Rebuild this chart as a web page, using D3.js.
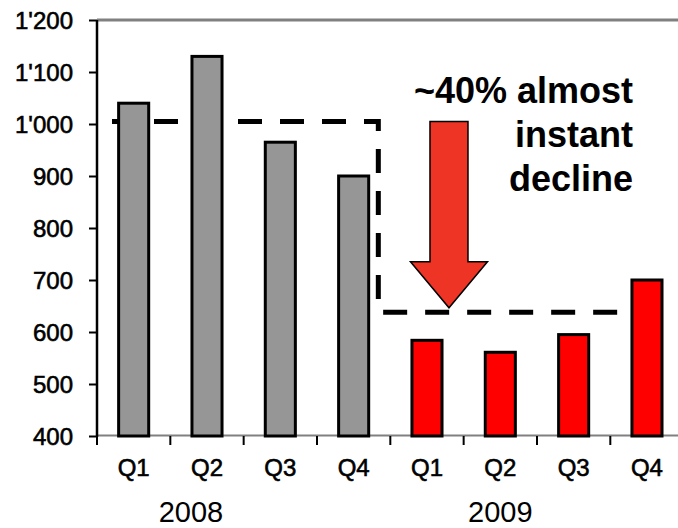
<!DOCTYPE html>
<html>
<head>
<meta charset="utf-8">
<script src="https://cdn.jsdelivr.net/npm/d3@7"></script>
<style>
  html, body { margin: 0; padding: 0; background: #fff; }
  svg { display: block; }
  text { font-family: "Liberation Sans", Arial, Helvetica, sans-serif; fill: #000; }
</style>
</head>
<body>
<svg id="chart" width="678" height="528"></svg>
<script>
// Quarterly volumes, 2008 vs 2009
const quarters = ["Q1", "Q2", "Q3", "Q4"];
const years = ["2008", "2009"];
const values2008 = [1040, 1130, 965, 900];
const values2009 = [584, 561, 595, 700];
const yTickValues = [400, 500, 600, 700, 800, 900, 1000, 1100, 1200];
// Level before and after the drop, shown as a dashed step line
const stepLevels = [1005, 638];
const calloutLines = ["~40% almost", "instant", "decline"];

const barFill = { "2008": "#969696", "2009": "#ff0000" };

const rows = years.flatMap((yr, i) =>
  quarters.map((q, j) => ({
    key: yr + "-" + q,
    year: yr,
    quarter: q,
    value: (i === 0 ? values2008 : values2009)[j]
  }))
);

const svg = d3.select("#chart");

const plotLeft = 97, plotTop = 20, plotBottom = 436;
const step = 73.33;

const x = d3.scaleBand()
  .domain(rows.map(d => d.key))
  .range([plotLeft, plotLeft + step * rows.length])
  .paddingInner(0.59)
  .paddingOuter(0.295);

const y = d3.scaleLinear().domain([400, 1200]).range([plotBottom, plotTop]);

// category boundary i (left edge of slot i)
const edge = i => x.range()[0] + i * x.step();

const fmt = d3.formatLocale({ decimal: ".", thousands: "'", grouping: [3], currency: ["", ""] }).format(",d");

// top frame line
svg.append("line")
  .attr("x1", plotLeft).attr("x2", 678)
  .attr("y1", y(1200)).attr("y2", y(1200))
  .attr("stroke", "#808080").attr("stroke-width", 3);

// x baseline
svg.append("line")
  .attr("x1", plotLeft).attr("x2", 678)
  .attr("y1", plotBottom - 0.5).attr("y2", plotBottom - 0.5)
  .attr("stroke", "#808080").attr("stroke-width", 2);

// x ticks at category boundaries
svg.append("g").selectAll("line")
  .data(d3.range(rows.length))
  .join("line")
  .attr("x1", i => edge(i)).attr("x2", i => edge(i))
  .attr("y1", plotBottom).attr("y2", plotBottom + 9)
  .attr("stroke", "#000").attr("stroke-width", 2);

// y axis
const yAxis = svg.append("g")
  .attr("transform", `translate(${plotLeft},0)`)
  .call(d3.axisLeft(y).tickValues(yTickValues).tickFormat(fmt).tickSize(8).tickPadding(16));
yAxis.select(".domain").attr("stroke", "#000").attr("stroke-width", 2.5)
  .attr("d", `M0,${plotTop}V${plotBottom + 1}`);
yAxis.selectAll(".tick line").attr("stroke", "#000").attr("stroke-width", 2);
yAxis.selectAll(".tick text")
  .attr("font-size", 24)
  .attr("font-family", '"Liberation Sans", Arial, sans-serif')
  .attr("fill", "#000")
  .attr("stroke", "#000").attr("stroke-width", 0.6)
  .attr("dy", "0.34em");

// dashed step line: before level -> drop -> after level
const stepPath = d3.path();
stepPath.moveTo(edge(0) + 15, y(stepLevels[0]));
stepPath.lineTo(edge(4) - 12, y(stepLevels[0]));
stepPath.lineTo(edge(4) - 12, y(stepLevels[1]));
stepPath.lineTo(edge(7) + 8, y(stepLevels[1]));
svg.append("path")
  .attr("d", stepPath.toString())
  .attr("fill", "none")
  .attr("stroke", "#000")
  .attr("stroke-width", 5)
  .attr("stroke-dasharray", "24,18");

// bars
svg.append("g").selectAll("rect")
  .data(rows)
  .join("rect")
  .attr("x", d => x(d.key))
  .attr("width", x.bandwidth())
  .attr("y", d => y(d.value))
  .attr("height", d => plotBottom - y(d.value))
  .attr("fill", d => barFill[d.year])
  .attr("stroke", "#000")
  .attr("stroke-width", 3);

// quarter labels
svg.append("g").selectAll("text")
  .data(rows)
  .join("text")
  .attr("x", d => x(d.key) + x.bandwidth() / 2)
  .attr("y", 476)
  .attr("text-anchor", "middle")
  .attr("font-size", 24)
  .attr("stroke", "#000").attr("stroke-width", 0.6)
  .text(d => d.quarter);

// year labels
svg.append("g").selectAll("text")
  .data(years)
  .join("text")
  .attr("x", (yr, i) => x(yr + "-Q2") + x.bandwidth() / 2 + (i === 0 ? -16 : 0))
  .attr("y", 521.5)
  .attr("text-anchor", "middle")
  .attr("font-size", 29)
  .text(yr => yr);

// down arrow between the two levels
const ax = edge(4) + 0.8 * x.step();
const aTop = y(stepLevels[0]);
const aTip = y(stepLevels[1]) - 4.5;
const headLen = 46, shaftHalf = 19, headHalf = 38.5;
const arrow = d3.path();
arrow.moveTo(ax - shaftHalf, aTop);
arrow.lineTo(ax + shaftHalf, aTop);
arrow.lineTo(ax + shaftHalf, aTip - headLen);
arrow.lineTo(ax + headHalf, aTip - headLen);
arrow.lineTo(ax, aTip);
arrow.lineTo(ax - headHalf, aTip - headLen);
arrow.lineTo(ax - shaftHalf, aTip - headLen);
arrow.closePath();
svg.append("path")
  .attr("d", arrow.toString())
  .attr("fill", "#ee3424")
  .attr("stroke", "#000")
  .attr("stroke-width", 1.5)
  .attr("stroke-linejoin", "miter");

// callout text
svg.append("g").selectAll("text")
  .data(calloutLines)
  .join("text")
  .attr("x", 633)
  .attr("y", (d, i) => 102.5 + i * 44)
  .attr("text-anchor", "end")
  .attr("font-size", 36)
  .attr("font-weight", "bold")
  .text(d => d);
</script>
</body>
</html>
